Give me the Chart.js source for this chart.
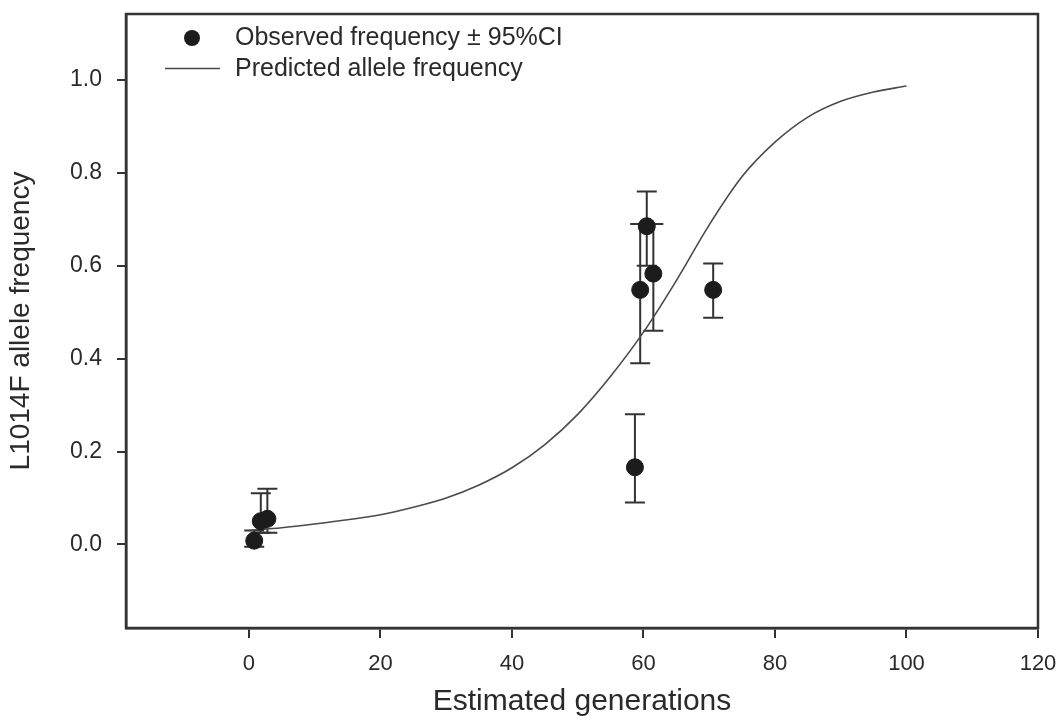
<!DOCTYPE html>
<html>
<head>
<meta charset="utf-8">
<script src="https://cdn.jsdelivr.net/npm/chart.js@4.4.1/dist/chart.umd.min.js"></script>
<style>
html,body{margin:0;padding:0;background:#fff;}
#wrap{width:1064px;height:720px;position:relative;}
canvas{display:block;}
</style>
</head>
<body>
<div id="wrap"><canvas id="c" width="1064" height="720"></canvas></div>
<script>
// Observed allele frequencies with 95% CI
const obsX  = [0.8, 1.8, 2.8, 58.7, 59.5, 60.5, 61.5, 70.6];
const obsY  = [0.008, 0.050, 0.055, 0.166, 0.548, 0.685, 0.583, 0.548];
const obsLo = [-0.005, 0.025, 0.025, 0.090, 0.390, 0.600, 0.460, 0.488];
const obsHi = [0.030, 0.110, 0.120, 0.280, 0.690, 0.760, 0.690, 0.605];

// Predicted allele frequency curve
const predX = [0, 5, 10, 15, 20, 25, 30, 35, 40, 45, 50, 55, 60, 65, 70, 75, 80, 85, 90, 95, 100];
const predY = [0.030, 0.036, 0.044, 0.053, 0.064, 0.080, 0.100, 0.128, 0.165, 0.215, 0.280, 0.362, 0.457, 0.568, 0.688, 0.792, 0.866, 0.920, 0.954, 0.974, 0.987];

// Tick labels
const xTicks = [0, 20, 40, 60, 80, 100, 120];
const yTicks = [0.0, 0.2, 0.4, 0.6, 0.8, 1.0];

const labels = {
  observed: 'Observed frequency \u00b1 95%CI',
  predicted: 'Predicted allele frequency',
  xTitle: 'Estimated generations',
  yTitle: 'L1014F allele frequency'
};

const INK = '#2a2a2a';
const FONT = "'Liberation Sans', Arial, sans-serif";

const errorBars = {
  id: 'errorBars',
  beforeDatasetsDraw(chart) {
    const {ctx, scales: {x, y}} = chart;
    ctx.save();
    ctx.strokeStyle = '#333';
    ctx.lineWidth = 2;
    for (let i = 0; i < obsX.length; i++) {
      const px = x.getPixelForValue(obsX[i]);
      const pLo = y.getPixelForValue(obsLo[i]);
      const pHi = y.getPixelForValue(obsHi[i]);
      ctx.beginPath();
      ctx.moveTo(px, pLo); ctx.lineTo(px, pHi);
      ctx.moveTo(px - 10, pLo); ctx.lineTo(px + 10, pLo);
      ctx.moveTo(px - 10, pHi); ctx.lineTo(px + 10, pHi);
      ctx.stroke();
    }
    ctx.restore();
  }
};

const frame = {
  id: 'frame',
  afterDraw(chart) {
    const {ctx, chartArea: a} = chart;
    ctx.save();
    ctx.strokeStyle = '#333';
    ctx.lineWidth = 2.5;
    ctx.strokeRect(a.left, a.top, a.right - a.left, a.bottom - a.top);
    // legend
    const ds0 = chart.data.datasets[0];
    const ds1 = chart.data.datasets[1];
    ctx.fillStyle = ds0.backgroundColor;
    ctx.beginPath();
    ctx.arc(192, 38, 8, 0, Math.PI * 2);
    ctx.fill();
    ctx.strokeStyle = ds1.borderColor;
    ctx.lineWidth = 1.6;
    ctx.beginPath();
    ctx.moveTo(165, 68.5); ctx.lineTo(220, 68.5);
    ctx.stroke();
    ctx.fillStyle = INK;
    ctx.font = '25px ' + FONT;
    ctx.textBaseline = 'middle';
    ctx.textAlign = 'left';
    ctx.fillText(labels.observed, 235, 38);
    ctx.fillText(labels.predicted, 235, 69);
    ctx.restore();
  }
};

new Chart(document.getElementById('c'), {
  type: 'scatter',
  data: {
    datasets: [
      {
        label: labels.observed,
        data: obsX.map((v, i) => ({x: v, y: obsY[i]})),
        backgroundColor: '#1c1c1c',
        borderColor: '#1c1c1c',
        pointRadius: 8.5,
        pointHoverRadius: 8.5,
        order: 0
      },
      {
        label: labels.predicted,
        type: 'line',
        data: predX.map((v, i) => ({x: v, y: predY[i]})),
        borderColor: '#4a4a4a',
        borderWidth: 1.6,
        pointRadius: 0,
        fill: false,
        cubicInterpolationMode: 'monotone',
        order: 1
      }
    ]
  },
  options: {
    responsive: false,
    animation: false,
    events: [],
    layout: {padding: {left: 0, top: 14, right: 26, bottom: 0}},
    plugins: {legend: {display: false}, tooltip: {enabled: false}},
    scales: {
      x: {
        type: 'linear',
        min: -18.7,
        max: 120,
        afterBuildTicks(s) { s.ticks = xTicks.map(v => ({value: v})); },
        afterFit(s) { s.height = 92; s.paddingLeft = 0; s.paddingRight = 0; },
        ticks: {
          color: INK,
          font: {family: FONT, size: 22},
          padding: 13,
          maxRotation: 0,
          callback: v => String(v)
        },
        grid: {display: true, drawOnChartArea: false, drawTicks: true, tickLength: 10, color: '#333', lineWidth: 2},
        border: {display: true, color: '#333', width: 2.5},
        title: {display: true, text: labels.xTitle, color: INK, font: {family: FONT, size: 30}, padding: {top: 6, bottom: 0}}
      },
      y: {
        type: 'linear',
        min: -0.18,
        max: 1.142,
        afterBuildTicks(s) { s.ticks = yTicks.map(v => ({value: v})); },
        afterFit(s) { s.width = 126; s.paddingTop = 0; s.paddingBottom = 0; },
        ticks: {
          color: INK,
          font: {family: FONT, size: 23},
          padding: 15,
          callback: v => v.toFixed(1)
        },
        grid: {display: true, drawOnChartArea: false, drawTicks: true, tickLength: 9, color: '#333', lineWidth: 2},
        border: {display: true, color: '#333', width: 2.5},
        title: {display: true, text: labels.yTitle, color: INK, font: {family: FONT, size: 28}, padding: {top: 4, bottom: 0}}
      }
    }
  },
  plugins: [errorBars, frame]
});
</script>
</body>
</html>
